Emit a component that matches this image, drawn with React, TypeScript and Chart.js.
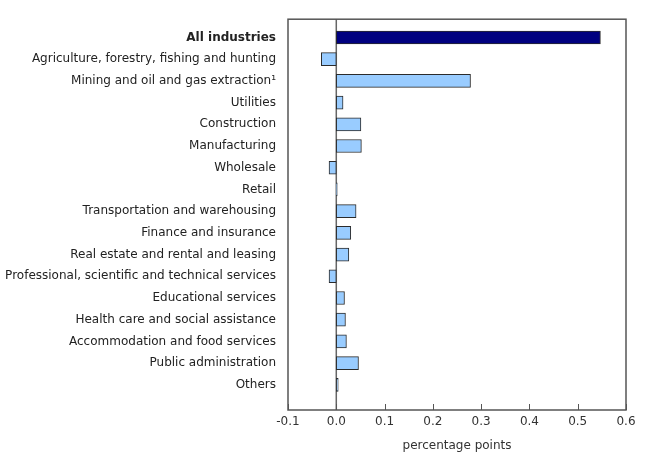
import React, { useEffect, useRef } from "react";
import { Chart, registerables } from "chart.js";

Chart.register(...registerables);

const categories = [
  "All industries",
  "Agriculture, forestry, fishing and hunting",
  "Mining and oil and gas extraction\u00B9",
  "Utilities",
  "Construction",
  "Manufacturing",
  "Wholesale",
  "Retail",
  "Transportation and warehousing",
  "Finance and insurance",
  "Real estate and rental and leasing",
  "Professional, scientific and technical services",
  "Educational services",
  "Health care and social assistance",
  "Accommodation and food services",
  "Public administration",
  "Others",
];

const values = [
  0.547, -0.031, 0.278, 0.014, 0.051, 0.052, -0.015, 0.002, 0.041, 0.03,
  0.026, -0.015, 0.017, 0.019, 0.021, 0.046, 0.004,
];

const xTickValues = [-0.1, 0, 0.1, 0.2, 0.3, 0.4, 0.5, 0.6];
const xTitle = "percentage points";

const FONT = "'DejaVu Sans', Verdana, sans-serif";

const framePlugin = {
  id: "frame",
  beforeDatasetsDraw(chart: any) {
    const { ctx, chartArea } = chart;
    const x0 = chart.scales.x.getPixelForValue(0);
    ctx.save();
    ctx.strokeStyle = "#666666";
    ctx.lineWidth = 1.5;
    ctx.beginPath();
    ctx.moveTo(x0, chartArea.top);
    ctx.lineTo(x0, chartArea.bottom);
    ctx.stroke();
    ctx.restore();
  },
  afterDraw(chart: any) {
    const { ctx, chartArea } = chart;
    const { left, top, right, bottom } = chartArea;
    ctx.save();
    ctx.strokeStyle = "#555555";
    ctx.lineWidth = 1.5;
    ctx.strokeRect(left, top, right - left, bottom - top);
    ctx.lineWidth = 1;
    ctx.beginPath();
    for (const v of xTickValues) {
      const x = Math.round(chart.scales.x.getPixelForValue(v)) + 0.5;
      ctx.moveTo(x, bottom);
      ctx.lineTo(x, bottom - 6);
    }
    ctx.stroke();
    ctx.restore();
  },
};

export default function App() {
  const ref = useRef<HTMLCanvasElement>(null);

  useEffect(() => {
    document.body.style.margin = "0";
    const canvas = ref.current;
    if (!canvas) return;
    const chart = new Chart(canvas, {
      type: "bar",
      data: {
        datasets: [
          {
            data: values.map((v, i) => ({ x: v, y: i })),
            backgroundColor: values.map((_, i) => (i === 0 ? "#000080" : "#99CCFF")),
            borderColor: "#2b2b2b",
            borderWidth: 1,
            borderSkipped: false,
            barThickness: 13,
          },
        ],
      },
      options: {
        animation: false,
        responsive: false,
        indexAxis: "y",
        layout: { padding: { top: 14, right: 34, left: 0, bottom: 0 } },
        plugins: {
          legend: { display: false },
          tooltip: { enabled: false },
        },
        scales: {
          x: {
            type: "linear",
            min: -0.1,
            max: 0.6,
            afterBuildTicks(scale: any) {
              scale.ticks = xTickValues.map((v) => ({ value: v }));
            },
            afterFit(scale: any) {
              scale.height = 60;
            },
            grid: { display: false, drawTicks: false },
            border: { display: false },
            ticks: {
              padding: 5,
              color: "#333333",
              font: { family: FONT, size: 12 },
              callback: (v: any) => Number(v).toFixed(1),
              maxRotation: 0,
            },
            title: {
              display: true,
              text: xTitle,
              color: "#333333",
              font: { family: FONT, size: 12 },
              padding: { top: 0, bottom: 17 },
            },
          },
          y: {
            type: "linear",
            reverse: true,
            offset: false,
            min: -18.5 / 22,
            max: -18.5 / 22 + 18,
            afterBuildTicks(scale: any) {
              scale.ticks = categories.map((_, i) => ({ value: i }));
            },
            afterFit(scale: any) {
              scale.width = 288;
            },
            grid: { display: false, drawTicks: false },
            border: { display: false },
            ticks: {
              padding: 12,
              color: "#222222",
              autoSkip: false,
              callback: (v: any) => categories[Math.round(Number(v))] ?? "",
              font: (c: any) => ({
                family: FONT,
                size: 12,
                weight: c.index === 0 ? "bold" : "normal",
              }),
            },
          },
        },
      },
      plugins: [framePlugin],
    } as any);
    return () => chart.destroy();
  }, []);

  return (
    <div style={{ width: 660, height: 470, position: "relative" }}>
      <canvas ref={ref} width={660} height={470} style={{ display: "block" }} />
    </div>
  );
}
